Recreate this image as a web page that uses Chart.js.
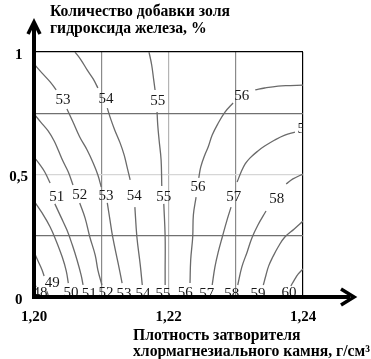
<!DOCTYPE html>
<html>
<head>
<meta charset="utf-8">
<script src="https://cdn.jsdelivr.net/npm/chart.js@4.4.0/dist/chart.umd.min.js"></script>
<style>
  html, body { margin: 0; padding: 0; background: #fff; }
</style>
</head>
<body>
<canvas id="plot" width="371" height="359"></canvas>
<script>
// axes
const xTickValues = [1.20, 1.21, 1.22, 1.23, 1.24];
const xTickLabels = ['1,20', '', '1,22', '', '1,24'];
const yTickValues = [0, 0.25, 0.5, 0.75, 1];
const yTickLabels = ['0', '', '0,5', '', '1'];

// isolines: [density, additive], null = break for the label
const c48 = [[1.2000, 0.061], [1.2003, 0.041]];
const c49 = [[1.2000, 0.184], [1.2006, 0.147], [1.2012, 0.110], [1.2015, 0.086], null,
             [1.2019, 0.024], [1.2022, 0.000]];
const c50 = [[1.2000, 0.392], [1.2012, 0.343], [1.2024, 0.286], [1.2033, 0.229], [1.2042, 0.163],
             [1.2048, 0.106], [1.2051, 0.057]];
const c51 = [[1.2000, 0.571], [1.2009, 0.539], [1.2016, 0.510], [1.2024, 0.465], null,
             [1.2031, 0.380], [1.2040, 0.327], [1.2049, 0.273], [1.2057, 0.212], [1.2064, 0.151],
             [1.2070, 0.090], [1.2073, 0.049]];
const c52 = [[1.2000, 0.747], [1.2010, 0.714], [1.2021, 0.678], [1.2030, 0.637], [1.2036, 0.600],
             [1.2043, 0.555], [1.2051, 0.510], [1.2058, 0.457], null,
             [1.2068, 0.384], [1.2076, 0.322], [1.2083, 0.245], [1.2091, 0.171], [1.2095, 0.110],
             [1.2101, 0.049]];
const c53 = [[1.2000, 0.951], [1.2012, 0.914], [1.2024, 0.878], [1.2033, 0.845], null,
             [1.2049, 0.767], [1.2058, 0.714], [1.2068, 0.653], [1.2079, 0.600], [1.2088, 0.547],
             [1.2095, 0.498], [1.2100, 0.449], null,
             [1.2109, 0.384], [1.2113, 0.314], [1.2117, 0.245], [1.2125, 0.139], [1.2131, 0.057]];
const c54 = [[1.2061, 1.000], [1.2070, 0.967], [1.2079, 0.927], [1.2088, 0.890], [1.2095, 0.853], null,
             [1.2109, 0.771], [1.2114, 0.727], [1.2120, 0.682], [1.2128, 0.629], [1.2134, 0.580],
             [1.2138, 0.535], [1.2143, 0.478], null,
             [1.2150, 0.367], [1.2153, 0.245], [1.2158, 0.131], [1.2161, 0.049]];
const c55 = [[1.2171, 1.000], [1.2175, 0.947], [1.2178, 0.886], [1.2180, 0.845], null,
             [1.2183, 0.755], [1.2184, 0.702], [1.2186, 0.641], [1.2189, 0.559], [1.2190, 0.453], null,
             [1.2193, 0.380], [1.2195, 0.245], [1.2195, 0.110], [1.2195, 0.049]];
const c56 = [[1.2400, 0.865], [1.2381, 0.863], [1.2363, 0.861], [1.2343, 0.853], [1.2329, 0.845], null,
             [1.2296, 0.792], [1.2284, 0.755], [1.2274, 0.710], [1.2265, 0.661], [1.2259, 0.612],
             [1.2254, 0.580], [1.2248, 0.531], [1.2245, 0.486], null,
             [1.2241, 0.408], [1.2237, 0.335], [1.2236, 0.245], [1.2233, 0.151], [1.2232, 0.057]];
const c57 = [[1.2388, 0.673], [1.2373, 0.661], [1.2358, 0.641], [1.2343, 0.616], [1.2333, 0.596],
             [1.2321, 0.567], [1.2314, 0.543], [1.2308, 0.510], [1.2302, 0.469], null,
             [1.2293, 0.367], [1.2287, 0.314], [1.2280, 0.245], [1.2274, 0.184], [1.2269, 0.122],
             [1.2265, 0.049]];
const c58 = [[1.2400, 0.502], [1.2385, 0.482], [1.2375, 0.461], null,
             [1.2345, 0.351], [1.2333, 0.294], [1.2324, 0.241], [1.2317, 0.184], [1.2309, 0.122],
             [1.2303, 0.049]];
const c59 = [[1.2400, 0.310], [1.2387, 0.278], [1.2373, 0.245], [1.2363, 0.204], [1.2355, 0.163],
             [1.2349, 0.127], [1.2345, 0.090], [1.2341, 0.049]];
const c60 = [[1.2400, 0.114], [1.2393, 0.094], [1.2387, 0.069], [1.2382, 0.045]];

const isolines = [c48, c49, c50, c51, c52, c53, c54, c55, c56, c57, c58, c59, c60];

// isoline labels
const labelText = ['48', '49', '50', '51', '51', '52', '52', '53', '53', '53', '54', '54', '54',
                   '55', '55', '55', '56', '56', '56', '57', '57', '57', '58', '58', '59', '60'];
const labelX = [1.2009, 1.2027, 1.2055, 1.2034, 1.2082, 1.2068, 1.2107, 1.2043, 1.2107, 1.2134,
                1.2107, 1.2149, 1.2162, 1.2184, 1.2193, 1.2192, 1.2309, 1.2244, 1.2225,
                1.2403, 1.2297, 1.2257, 1.2361, 1.2294, 1.2333, 1.2379];
const labelY = [0.016, 0.057, 0.016, 0.408, 0.012, 0.416, 0.016, 0.804, 0.412, 0.012,
                0.808, 0.412, 0.012, 0.800, 0.408, 0.012, 0.820, 0.449, 0.016,
                0.686, 0.408, 0.012, 0.400, 0.012, 0.012, 0.016];

const serif = '"Liberation Serif", "Times New Roman", serif';
Chart.defaults.font.family = serif;
Chart.defaults.color = '#000';

function gridColorX(ctx) {
    const k = Math.round(ctx.tick.value * 100);
    if (k === 120) return 'rgba(0,0,0,0)';
    if (k === 124) return '#000';
    return k === 122 ? '#b4b4b4' : '#8a8a8a';
}
function gridColorY(ctx) {
    const v = ctx.tick.value;
    if (v === 0) return 'rgba(0,0,0,0)';
    if (v === 1) return '#000';
    return v === 0.5 ? '#d6d6d6' : '#707070';
}

const isoLabels = {
    id: 'isoLabels',
    afterDatasetsDraw(chart) {
        const { ctx, chartArea: a, scales } = chart;
        ctx.save();
        ctx.beginPath();
        ctx.rect(a.left, a.top, a.right - a.left, a.bottom - a.top);
        ctx.clip();
        ctx.font = '15px ' + serif;
        ctx.fillStyle = '#1a1a1a';
        ctx.textAlign = 'center';
        ctx.textBaseline = 'middle';
        labelText.forEach((t, i) => {
            ctx.fillText(t, scales.x.getPixelForValue(labelX[i]), scales.y.getPixelForValue(labelY[i]));
        });
        ctx.restore();
    }
};

const axesAndTitles = {
    id: 'axesAndTitles',
    afterDraw(chart) {
        const { ctx, chartArea: a } = chart;
        ctx.save();
        ctx.fillStyle = '#000';
        ctx.strokeStyle = '#000';
        // thick axes with arrows
        ctx.fillRect(a.left - 2, 26, 4, a.bottom - 24);
        ctx.fillRect(a.left - 2, a.bottom - 2, 352 - a.left, 4);
        ctx.lineWidth = 3.5;
        ctx.lineJoin = 'miter';
        ctx.beginPath();
        ctx.moveTo(a.left - 6, 34);
        ctx.lineTo(a.left, 22);
        ctx.lineTo(a.left + 6, 34);
        ctx.stroke();
        ctx.beginPath();
        ctx.moveTo(341, a.bottom - 8);
        ctx.lineTo(354, a.bottom);
        ctx.lineTo(341, a.bottom + 8);
        ctx.stroke();
        // axis titles
        ctx.font = 'bold 15.7px ' + serif;
        ctx.textAlign = 'left';
        ctx.textBaseline = 'middle';
        ctx.fillText('Количество добавки золя', 50, 12);
        ctx.fillText('гидроксида железа, %', 50, 29);
        ctx.fillText('Плотность затворителя', 133, 336);
        ctx.fillText('хлормагнезиального камня, г/см³', 133, 352);
        ctx.restore();
    }
};

new Chart(document.getElementById('plot'), {
    type: 'scatter',
    data: {
        datasets: isolines.map(line => ({
            data: line.map(p => p ? { x: p[0], y: p[1] } : { x: null, y: null }),
            showLine: true,
            spanGaps: false,
            borderColor: '#6a6a6a',
            borderWidth: 1.3,
            pointRadius: 0,
            tension: 0.4
        }))
    },
    options: {
        responsive: false,
        animation: false,
        layout: { padding: { left: 0, right: 68, top: 52, bottom: 0 } },
        scales: {
            x: {
                type: 'linear',
                min: 1.20,
                max: 1.24,
                afterBuildTicks: s => { s.ticks = xTickValues.map(v => ({ value: v })); },
                afterFit: s => { s.height = 62; },
                border: { display: false },
                grid: { color: gridColorX, lineWidth: 1.2, drawTicks: false },
                ticks: {
                    callback: (v, i) => xTickLabels[i],
                    autoSkip: false,
                    maxRotation: 0,
                    padding: 11,
                    font: { size: 15, weight: 'bold' }
                }
            },
            y: {
                type: 'linear',
                min: 0,
                max: 1,
                afterBuildTicks: s => { s.ticks = yTickValues.map(v => ({ value: v })); },
                afterFit: s => { s.width = 34; },
                border: { display: false },
                grid: { color: gridColorY, lineWidth: 1.2, drawTicks: false },
                ticks: {
                    callback: (v, i) => yTickLabels[i],
                    autoSkip: false,
                    crossAlign: 'center',
                    labelOffset: 3,
                    padding: 6,
                    font: { size: 15, weight: 'bold' }
                }
            }
        },
        plugins: {
            legend: { display: false },
            tooltip: { enabled: false }
        }
    },
    plugins: [isoLabels, axesAndTitles]
});
</script>
</body>
</html>
